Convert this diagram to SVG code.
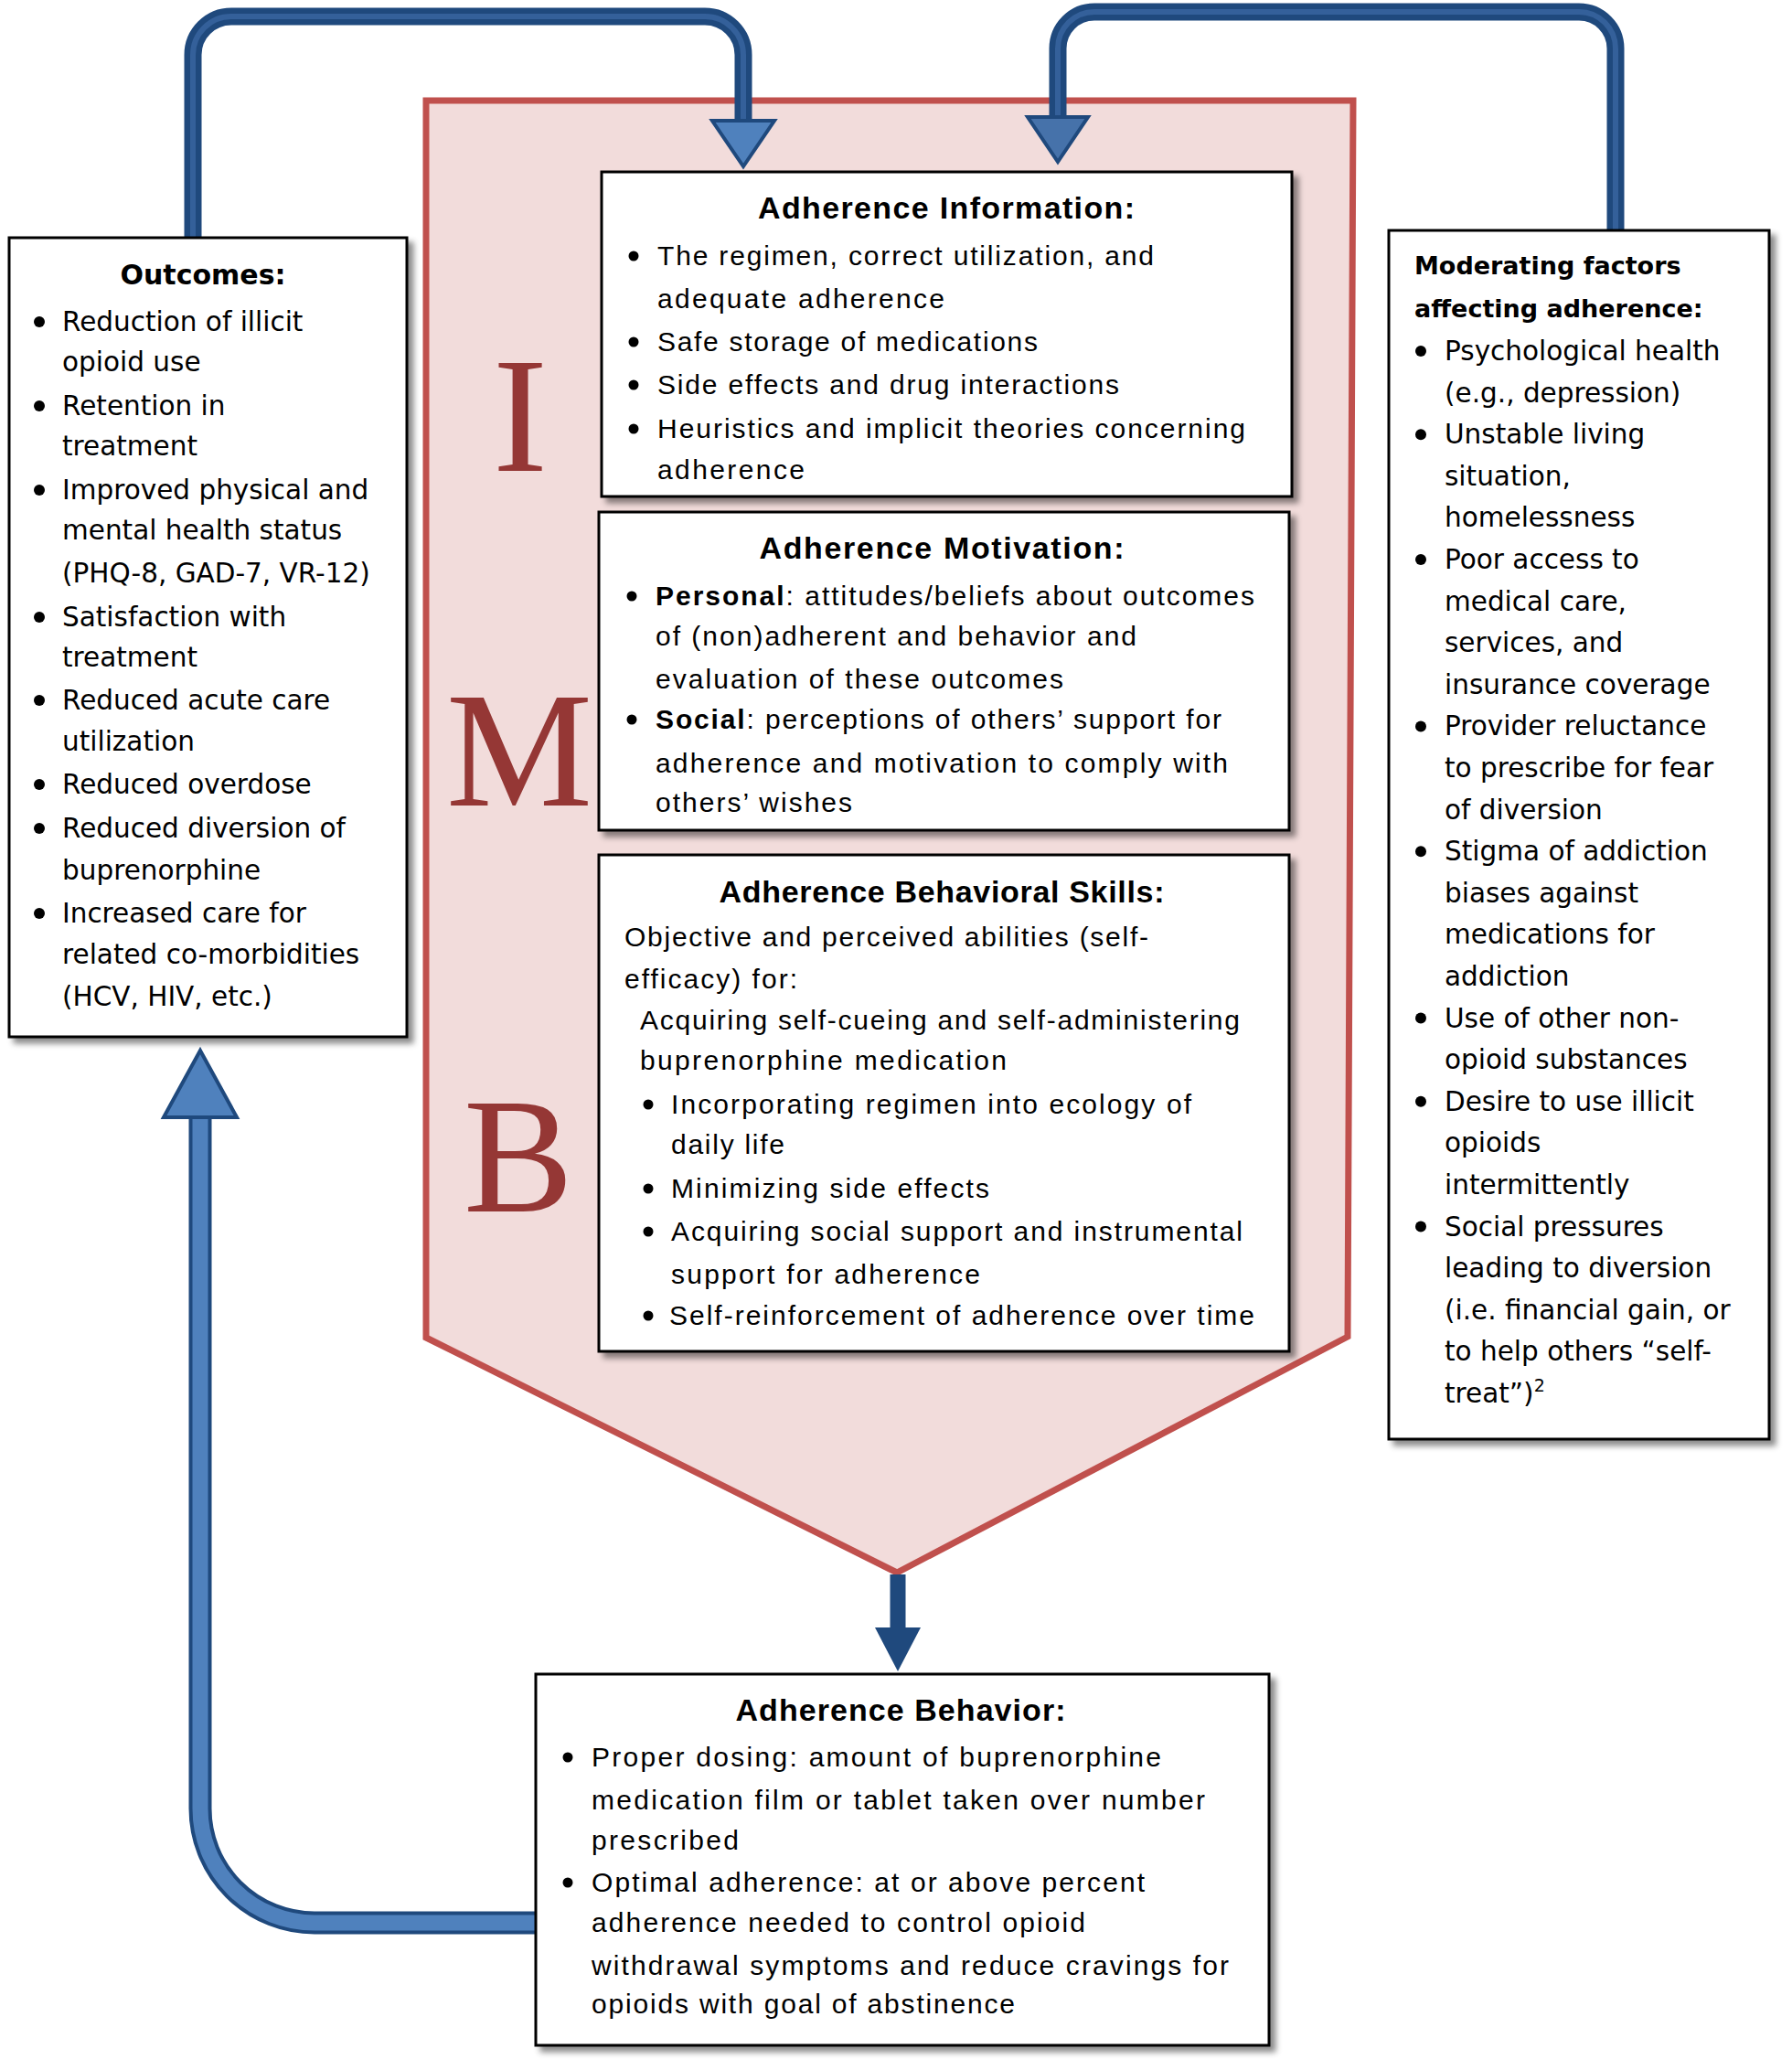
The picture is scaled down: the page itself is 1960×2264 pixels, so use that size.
<svg xmlns="http://www.w3.org/2000/svg" width="1960" height="2264" viewBox="0 0 1960 2264">
<defs>
<filter id="sh" x="-5%" y="-5%" width="115%" height="115%">
<feDropShadow dx="6" dy="6" stdDeviation="3" flood-color="#000" flood-opacity="0.45"/>
</filter>
</defs>
<style>
.box{fill:#fff;stroke:#000;stroke-width:3}
.c{font-family:"Liberation Sans",Arial,sans-serif;font-size:30px;fill:#000}
.ct{font-family:"Liberation Sans",Arial,sans-serif;font-size:34px;font-weight:bold;fill:#000}
.v{font-family:"DejaVu Sans",Verdana,sans-serif;font-size:29.5px;fill:#000}
.vt{font-family:"DejaVu Sans",Verdana,sans-serif;font-weight:bold;fill:#000}
.big{font-family:"Liberation Serif","Times New Roman",serif;font-size:180px;fill:#953735}
.bl{fill:#000}
.outer{fill:none;stroke:#1F497D;stroke-width:19}
.inner{fill:none;stroke:#34609A;stroke-width:6}
</style>
<rect x="0" y="0" width="1960" height="2264" fill="#fff"/>

<g id="imb">
<polygon points="466,110 1480,110 1474,1462 981,1720 466,1463" fill="#F2DCDB" stroke="#C0504D" stroke-width="7"/>
<text class="big" x="539" y="515">I</text>
<text class="big" x="488" y="881">M</text>
<text class="big" x="507" y="1325">B</text>
</g>

<g id="connectors">
<path class="outer" d="M 211 262 V 60 A 42 42 0 0 1 253 18 H 771 A 42 42 0 0 1 813 60 V 134"/>
<path class="inner" d="M 211 262 V 60 A 42 42 0 0 1 253 18 H 771 A 42 42 0 0 1 813 60 V 134"/>
<polygon points="779,132 847,132 813,182" fill="#4F81BD" stroke="#1F497D" stroke-width="4"/>
<path class="outer" d="M 1767 254 V 53 A 40 40 0 0 0 1727 13 H 1197 A 40 40 0 0 0 1157 53 V 130"/>
<path class="inner" d="M 1767 254 V 53 A 40 40 0 0 0 1727 13 H 1197 A 40 40 0 0 0 1157 53 V 130"/>
<polygon points="1124,128 1190,128 1157,177" fill="#4672AA" stroke="#1F497D" stroke-width="4"/>
<path d="M 593 2103 H 344 A 125 125 0 0 1 219 1978 V 1218" fill="none" stroke="#1F497D" stroke-width="25"/>
<path d="M 593 2103 H 344 A 125 125 0 0 1 219 1978 V 1218" fill="none" stroke="#4F81BD" stroke-width="17"/>
<polygon points="219,1149 259,1222 179,1222" fill="#4F81BD" stroke="#1F497D" stroke-width="4"/>
<line x1="982" y1="1722" x2="982" y2="1784" stroke="#1F497D" stroke-width="17"/>
<polygon points="957,1780 1007,1780 982,1828" fill="#1F497D"/>
</g>

<g id="outcomes">
<rect class="box" x="10" y="260" width="435" height="874" filter="url(#sh)"/>
<text class="vt" x="222" y="311" font-size="30" text-anchor="middle">Outcomes:</text>
<circle class="bl" cx="43" cy="352" r="6"/>
<text class="v" x="68" y="362">Reduction of illicit</text>
<text class="v" x="68" y="406">opioid use</text>
<circle class="bl" cx="43" cy="444" r="6"/>
<text class="v" x="68" y="454">Retention in</text>
<text class="v" x="68" y="498">treatment</text>
<circle class="bl" cx="43" cy="536" r="6"/>
<text class="v" x="68" y="546">Improved physical and</text>
<text class="v" x="68" y="590">mental health status</text>
<text class="v" x="68" y="637">(PHQ-8, GAD-7, VR-12)</text>
<circle class="bl" cx="43" cy="675" r="6"/>
<text class="v" x="68" y="685">Satisfaction with</text>
<text class="v" x="68" y="729">treatment</text>
<circle class="bl" cx="43" cy="766" r="6"/>
<text class="v" x="68" y="776">Reduced acute care</text>
<text class="v" x="68" y="821">utilization</text>
<circle class="bl" cx="43" cy="858" r="6"/>
<text class="v" x="68" y="868">Reduced overdose</text>
<circle class="bl" cx="43" cy="906" r="6"/>
<text class="v" x="68" y="916">Reduced diversion of</text>
<text class="v" x="68" y="962">buprenorphine</text>
<circle class="bl" cx="43" cy="999" r="6"/>
<text class="v" x="68" y="1009">Increased care for</text>
<text class="v" x="68" y="1054">related co-morbidities</text>
<text class="v" x="68" y="1100">(HCV, HIV, etc.)</text>
</g>

<g id="information">
<rect class="box" x="658" y="188" width="755" height="355" filter="url(#sh)"/>
<text class="ct" x="1035" y="239" text-anchor="middle" textLength="412">Adherence Information:</text>
<circle class="bl" cx="693" cy="280" r="5.5"/>
<text class="c" x="719" y="290" textLength="543">The regimen, correct utilization, and</text>
<text class="c" x="719" y="337" textLength="314">adequate adherence</text>
<circle class="bl" cx="693" cy="374" r="5.5"/>
<text class="c" x="719" y="384" textLength="416">Safe storage of medications</text>
<circle class="bl" cx="693" cy="421" r="5.5"/>
<text class="c" x="719" y="431" textLength="505">Side effects and drug interactions</text>
<circle class="bl" cx="693" cy="469" r="5.5"/>
<text class="c" x="719" y="479" textLength="643">Heuristics and implicit theories concerning</text>
<text class="c" x="719" y="524" textLength="161">adherence</text>
</g>

<g id="motivation">
<rect class="box" x="655" y="560" width="755" height="348" filter="url(#sh)"/>
<text class="ct" x="1030" y="611" text-anchor="middle" textLength="399">Adherence Motivation:</text>
<circle class="bl" cx="691" cy="652" r="5.5"/>
<text class="c" x="717" y="662" textLength="655"><tspan font-weight="bold">Personal</tspan>: attitudes/beliefs about outcomes</text>
<text class="c" x="717" y="706" textLength="526">of (non)adherent and behavior and</text>
<text class="c" x="717" y="753" textLength="446">evaluation of these outcomes</text>
<circle class="bl" cx="691" cy="787" r="5.5"/>
<text class="c" x="717" y="797" textLength="619"><tspan font-weight="bold">Social</tspan>: perceptions of others’ support for</text>
<text class="c" x="717" y="845" textLength="626">adherence and motivation to comply with</text>
<text class="c" x="717" y="888" textLength="215">others’ wishes</text>
</g>

<g id="skills">
<rect class="box" x="655" y="935" width="755" height="543" filter="url(#sh)"/>
<text class="ct" x="1030" y="987" text-anchor="middle" textLength="487">Adherence Behavioral Skills:</text>
<text class="c" x="683" y="1035" textLength="573">Objective and perceived abilities (self-</text>
<text class="c" x="683" y="1081" textLength="189">efficacy) for:</text>
<text class="c" x="700" y="1126" textLength="656">Acquiring self-cueing and self-administering</text>
<text class="c" x="700" y="1170" textLength="401">buprenorphine medication</text>
<circle class="bl" cx="709" cy="1208" r="5.5"/>
<text class="c" x="734" y="1218" textLength="569">Incorporating regimen into ecology of</text>
<text class="c" x="734" y="1262" textLength="124">daily life</text>
<circle class="bl" cx="709" cy="1300" r="5.5"/>
<text class="c" x="734" y="1310" textLength="348">Minimizing side effects</text>
<circle class="bl" cx="709" cy="1347" r="5.5"/>
<text class="c" x="734" y="1357" textLength="625">Acquiring social support and instrumental</text>
<text class="c" x="734" y="1404" textLength="338">support for adherence</text>
<circle class="bl" cx="709" cy="1439" r="5.5"/>
<text class="c" x="732" y="1449" textLength="640">Self-reinforcement of adherence over time</text>
</g>

<g id="behavior">
<rect class="box" x="586" y="1831" width="802" height="406" filter="url(#sh)"/>
<text class="ct" x="985" y="1882" text-anchor="middle" textLength="361">Adherence Behavior:</text>
<circle class="bl" cx="621" cy="1922" r="5.5"/>
<text class="c" x="647" y="1932" textLength="623">Proper dosing: amount of buprenorphine</text>
<text class="c" x="647" y="1979" textLength="671">medication film or tablet taken over number</text>
<text class="c" x="647" y="2023" textLength="161">prescribed</text>
<circle class="bl" cx="621" cy="2059" r="5.5"/>
<text class="c" x="647" y="2069" textLength="605">Optimal adherence: at or above percent</text>
<text class="c" x="647" y="2113" textLength="540">adherence needed to control opioid</text>
<text class="c" x="647" y="2160" textLength="697">withdrawal symptoms and reduce cravings for</text>
<text class="c" x="647" y="2202" textLength="463">opioids with goal of abstinence</text>
</g>

<g id="moderating">
<rect class="box" x="1519" y="252" width="416" height="1322" filter="url(#sh)"/>
<text class="vt" x="1547" y="300" font-size="27">Moderating factors</text>
<text class="vt" x="1547" y="347" font-size="27">affecting adherence:</text>
<circle class="bl" cx="1554" cy="384" r="6"/>
<text class="v" x="1580" y="394">Psychological health</text>
<text class="v" x="1580" y="439.6">(e.g., depression)</text>
<circle class="bl" cx="1554" cy="475.2" r="6"/>
<text class="v" x="1580" y="485.2">Unstable living</text>
<text class="v" x="1580" y="530.8">situation,</text>
<text class="v" x="1580" y="576.4">homelessness</text>
<circle class="bl" cx="1554" cy="612" r="6"/>
<text class="v" x="1580" y="622">Poor access to</text>
<text class="v" x="1580" y="667.6">medical care,</text>
<text class="v" x="1580" y="713.2">services, and</text>
<text class="v" x="1580" y="758.8">insurance coverage</text>
<circle class="bl" cx="1554" cy="794.4" r="6"/>
<text class="v" x="1580" y="804.4">Provider reluctance</text>
<text class="v" x="1580" y="850">to prescribe for fear</text>
<text class="v" x="1580" y="895.6">of diversion</text>
<circle class="bl" cx="1554" cy="931.2" r="6"/>
<text class="v" x="1580" y="941.2">Stigma of addiction</text>
<text class="v" x="1580" y="986.8">biases against</text>
<text class="v" x="1580" y="1032.4">medications for</text>
<text class="v" x="1580" y="1078">addiction</text>
<circle class="bl" cx="1554" cy="1113.6" r="6"/>
<text class="v" x="1580" y="1123.6">Use of other non-</text>
<text class="v" x="1580" y="1169.2">opioid substances</text>
<circle class="bl" cx="1554" cy="1204.8" r="6"/>
<text class="v" x="1580" y="1214.8">Desire to use illicit</text>
<text class="v" x="1580" y="1260.4">opioids</text>
<text class="v" x="1580" y="1306">intermittently</text>
<circle class="bl" cx="1554" cy="1341.6" r="6"/>
<text class="v" x="1580" y="1351.6">Social pressures</text>
<text class="v" x="1580" y="1397.2">leading to diversion</text>
<text class="v" x="1580" y="1442.8">(i.e. financial gain, or</text>
<text class="v" x="1580" y="1488.4">to help others “self-</text>
<text class="v" x="1580" y="1534">treat”)<tspan font-size="19" dy="-12">2</tspan></text>
</g>
</svg>
